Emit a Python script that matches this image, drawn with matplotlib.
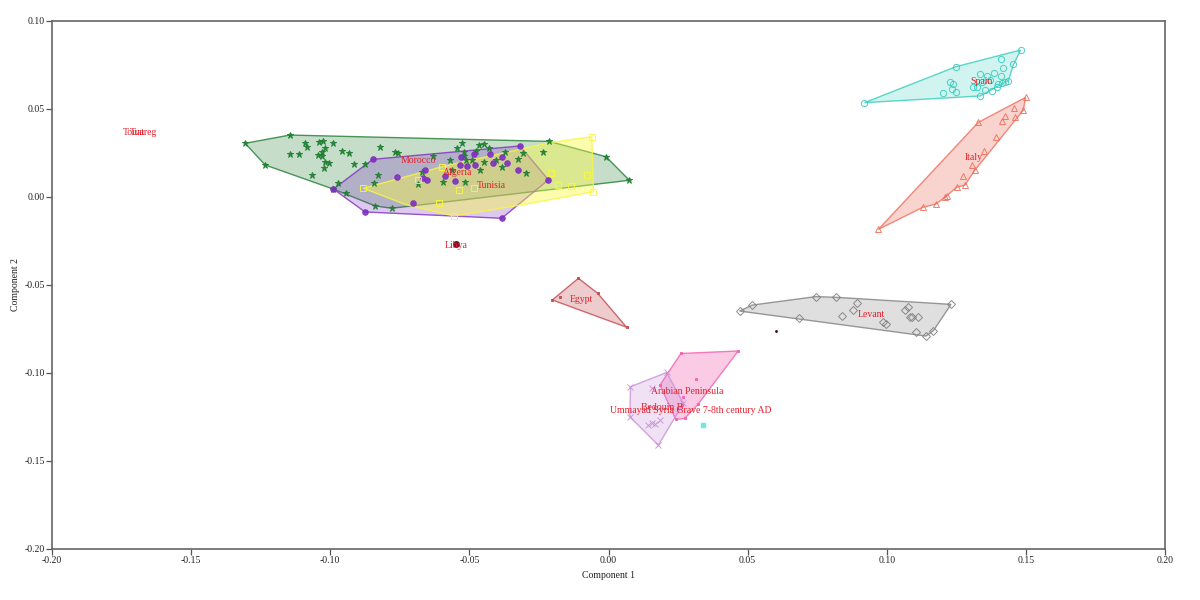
#!/usr/bin/env python3

import matplotlib
matplotlib.use("Agg")

import matplotlib.pyplot as plt

plt.rcParams["font.family"] = ["Liberation Serif", "DejaVu Serif"]

# hull corners and samples as (component 1, component 2)
morocco_hull = [(-0.1306, 0.0305), (-0.1145, 0.0352), (-0.0213, 0.0316), (-0.0009, 0.0229),
                (0.0075, 0.0095), (-0.0779, -0.0064), (-0.0838, -0.0051), (-0.0989, 0.0045),
                (-0.1234, 0.0182)]
morocco_pts = morocco_hull + [
               (-0.109, 0.0309), (-0.1084, 0.0282), (-0.1144, 0.0242), (-0.1112, 0.0246),
               (-0.1039, 0.0314), (-0.1027, 0.0316), (-0.0991, 0.0309), (-0.1019, 0.0277),
               (-0.1031, 0.0258), (-0.1043, 0.0239), (-0.1031, 0.0233), (-0.0959, 0.0263),
               (-0.0932, 0.0248), (-0.1019, 0.0201), (-0.1003, 0.0195), (-0.1022, 0.0167),
               (-0.0914, 0.0187), (-0.1066, 0.0125), (-0.0875, 0.0186), (-0.0823, 0.0286),
               (-0.0767, 0.0256), (-0.0757, 0.0252), (-0.0629, 0.0233), (-0.0827, 0.0125),
               (-0.0842, 0.0081), (-0.0971, 0.0078), (-0.0943, 0.0025), (-0.0525, 0.0309),
               (-0.0543, 0.0277), (-0.0521, 0.0258), (-0.0521, 0.0233), (-0.0467, 0.0295),
               (-0.0447, 0.0301), (-0.0428, 0.0277), (-0.0476, 0.0263), (-0.0512, 0.021),
               (-0.0491, 0.021), (-0.0449, 0.0197), (-0.0404, 0.021), (-0.0372, 0.0254),
               (-0.0324, 0.0214), (-0.0308, 0.0248), (-0.0236, 0.0258), (-0.0384, 0.0169),
               (-0.0461, 0.0154), (-0.0296, 0.0134), (-0.0569, 0.021), (-0.0671, 0.0144),
               (-0.0683, 0.0072), (-0.0593, 0.0087), (-0.0515, 0.0083), (-0.0563, 0.0154)]

algeria_hull = [(-0.0989, 0.0045), (-0.0847, 0.0214), (-0.0318, 0.029), (-0.0216, 0.0097),
                (-0.0384, -0.0121), (-0.0875, -0.0085)]
algeria_pts = algeria_hull + [
               (-0.0761, 0.0115), (-0.0659, 0.0153), (-0.0665, 0.0106), (-0.0651, 0.0097),
               (-0.0587, 0.0119), (-0.0551, 0.0091), (-0.0533, 0.0182), (-0.0509, 0.0178),
               (-0.0479, 0.0182), (-0.0531, 0.0225), (-0.0482, 0.0242), (-0.0426, 0.0242),
               (-0.0381, 0.0229), (-0.0414, 0.0191), (-0.0363, 0.0191), (-0.0327, 0.0154),
               (-0.0701, -0.0032)]

tunisia_hull = [(-0.0881, 0.0049), (-0.0599, 0.0172), (-0.021, 0.0309), (-0.006, 0.0343),
                (-0.0054, 0.003), (-0.0294, -0.004), (-0.0555, -0.0108), (-0.0725, -0.0045)]
tunisia_pts = [(-0.0881, 0.0049), (-0.0599, 0.0172), (-0.0683, 0.0097), (-0.0536, 0.004),
               (-0.0485, 0.0049), (-0.0609, -0.0036), (-0.0208, 0.0134), (-0.018, 0.0068),
               (-0.0136, 0.0064), (-0.0078, 0.0125), (-0.006, 0.0343), (-0.0054, 0.003),
               (-0.0555, -0.0108)]

spain_hull = [(0.092, 0.0536), (0.1248, 0.074), (0.1481, 0.0835), (0.1455, 0.075),
              (0.1437, 0.0661), (0.1335, 0.0574)]
spain_pts = [(0.092, 0.0536), (0.1248, 0.074), (0.1481, 0.0835), (0.1409, 0.0782),
             (0.1417, 0.0735), (0.1455, 0.0756), (0.1227, 0.0655), (0.1239, 0.0642),
             (0.1203, 0.0589), (0.1233, 0.0614), (0.1249, 0.0598), (0.1335, 0.0699),
             (0.1359, 0.0687), (0.1386, 0.0703), (0.1409, 0.0687), (0.1323, 0.0627),
             (0.1309, 0.0623), (0.1353, 0.0608), (0.1377, 0.0604), (0.1395, 0.0627),
             (0.1413, 0.065), (0.1437, 0.0661), (0.1425, 0.0655), (0.1401, 0.0642),
             (0.1335, 0.0574), (0.1341, 0.0655), (0.1371, 0.0665)]

italy_hull = [(0.097, -0.0184), (0.1329, 0.0424), (0.1499, 0.0566), (0.1491, 0.0494),
              (0.1317, 0.0153), (0.1281, 0.0068), (0.1251, 0.0055), (0.1215, 0.0006),
              (0.1177, -0.004), (0.1129, -0.0059)]
italy_pts = italy_hull + [(0.1459, 0.0504), (0.1425, 0.046), (0.1413, 0.0432), (0.1461, 0.0453),
                          (0.1392, 0.0343), (0.135, 0.0261), (0.1305, 0.0182), (0.1275, 0.0119),
                          (0.1209, -0.0002)]

levant_hull = [(0.0471, -0.0648), (0.0517, -0.0614), (0.0745, -0.0566), (0.0818, -0.057),
               (0.1231, -0.061), (0.1168, -0.0759), (0.1141, -0.079)]
levant_pts = levant_hull + [(0.0683, -0.0689), (0.0892, -0.06), (0.088, -0.0642), (0.0838, -0.0676),
                            (0.1078, -0.0623), (0.1066, -0.0642), (0.1084, -0.0684), (0.109, -0.0684),
                            (0.1114, -0.0684), (0.0988, -0.0712), (0.0997, -0.0722), (0.1105, -0.0765)]

egypt_hull = [(-0.0202, -0.0585), (-0.0108, -0.0462), (-0.0039, -0.0547), (0.0065, -0.074)]
egypt_pts = egypt_hull + [(-0.0174, -0.0566)]

arabian_hull = [(0.026, -0.0889), (0.0466, -0.0875), (0.0322, -0.1177), (0.0274, -0.1258),
                (0.0242, -0.1264), (0.0185, -0.1069)]
arabian_pts = arabian_hull + [(0.0313, -0.1036), (0.0269, -0.1135), (0.0263, -0.1182)]

bedouin_hull = [(0.0079, -0.1078), (0.0209, -0.0997), (0.0269, -0.1173), (0.0179, -0.141),
                (0.0077, -0.1249)]
bedouin_pts = bedouin_hull + [(0.0155, -0.1088), (0.0143, -0.1296), (0.0167, -0.1287),
                              (0.0185, -0.1268), (0.0155, -0.1283)]

libya_pt = [(-0.0549, -0.0269)]
umayyad_pt = [(0.034, -0.1296)]
stray_pt = [(0.0601, -0.0761)]

label_names = ["Touat", "Tuareg", "Morocco", "Algeria", "Tunisia", "Libya", "Spain", "Italy",
               "Levant", "Egypt", "Arabian Peninsula", "Bedouin B",
               "Ummayad Syria Grave 7-8th century AD"]
label_pos = [(-0.1707, 0.0369), (-0.1672, 0.0369), (-0.0685, 0.0205), (-0.0541, 0.0142),
             (-0.0422, 0.0068), (-0.0548, -0.0273), (0.1342, 0.0659), (0.1314, 0.0227),
             (0.0943, -0.067), (-0.0096, -0.0581), (0.0284, -0.1107), (0.0194, -0.1197),
             (0.0296, -0.1215)]

x_ticks = [-0.20, -0.15, -0.10, -0.05, 0.00, 0.05, 0.10, 0.15, 0.20]
y_ticks = [-0.20, -0.15, -0.10, -0.05, 0.00, 0.05, 0.10]

fig = plt.figure(figsize=(12, 6), dpi=100)
ax = fig.add_axes([52 / 1200, 1 - 549 / 600, 1113 / 1200, 528 / 600])


def draw_group(hull, pts, color, marker, size, hollow=False, alpha=0.28):
    hx, hy = zip(*hull)
    ax.fill(hx, hy, facecolor=color, alpha=alpha, edgecolor="none")
    ax.fill(hx, hy, facecolor="none", edgecolor=color, linewidth=1.0, alpha=0.8)
    px, py = zip(*pts)
    ax.plot(px, py, linestyle="none", marker=marker, markersize=size,
            markerfacecolor="none" if hollow else color, markeredgecolor=color,
            markeredgewidth=0.7, alpha=0.9)


draw_group(morocco_hull, morocco_pts, "#1f7f32", "*", 5, alpha=0.26)
draw_group(algeria_hull, algeria_pts, "#7d2fc0", "o", 4, alpha=0.26)
draw_group(tunisia_hull, tunisia_pts, "#f8f840", "s", 4.5, hollow=True, alpha=0.42)
draw_group(spain_hull, spain_pts, "#35cdbd", "o", 4.5, hollow=True, alpha=0.22)
draw_group(italy_hull, italy_pts, "#ee6f5c", "^", 5, hollow=True, alpha=0.3)
draw_group(levant_hull, levant_pts, "#808080", "D", 4, hollow=True, alpha=0.25)
draw_group(egypt_hull, egypt_pts, "#c24a4f", "s", 2, alpha=0.28)
draw_group(arabian_hull, arabian_pts, "#f45fb0", "s", 2, alpha=0.32)
draw_group(bedouin_hull, bedouin_pts, "#c890d8", "x", 4.5, alpha=0.26)

ax.plot(*zip(*libya_pt), linestyle="none", marker="o", markersize=4, color="#7a1020")
ax.plot(*zip(*umayyad_pt), linestyle="none", marker="s", markersize=2.5, color="#6fe8e4")
ax.plot(*zip(*stray_pt), linestyle="none", marker="s", markersize=0.9, color="#400000")

for name, (lx, ly) in zip(label_names, label_pos):
    ax.text(lx, ly, name, color="#e4202c", fontsize=7.0, ha="center", va="center")

ax.set_xlim(-0.20, 0.20)
ax.set_ylim(-0.20, 0.10)
ax.set_xticks(x_ticks)
ax.set_yticks(y_ticks)
ax.set_xticklabels(["%.2f" % t for t in x_ticks])
ax.set_yticklabels(["%.2f" % t for t in y_ticks])
ax.tick_params(length=4, width=0.9, color="#555555", labelsize=7, labelcolor="#222222", pad=1)
for spine in ax.spines.values():
    spine.set_color("#666666")
    spine.set_linewidth(1.2)

fig.text(609 / 1200, 1 - 576 / 600, "Component 1", fontsize=7.0,
         color="#222222", ha="center", va="center")
fig.text(15 / 1200, 1 - 285 / 600, "Component 2", fontsize=7.0,
         color="#222222", rotation=90, ha="center", va="center")

fig.savefig("out.png", dpi=100)
